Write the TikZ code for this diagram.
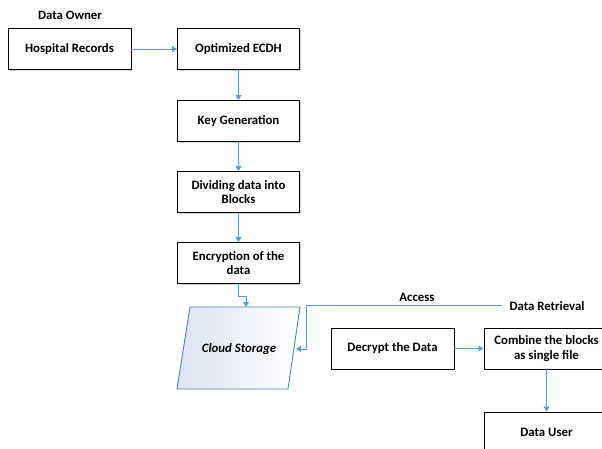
\documentclass[tikz,border=0pt]{standalone}
\usepackage{fontspec}
\setmainfont{Carlito}
\usetikzlibrary{arrows.meta,shadows}
\definecolor{arrowblue}{HTML}{5B9BD5}
\definecolor{cloudblue}{HTML}{DDE3F2}
\begin{document}
\begin{tikzpicture}[x=1pt,y=-1pt,
  box/.style={draw=black,line width=0.9pt,fill=white,minimum width=#1,minimum height=41pt,
    inner sep=2pt,align=center,font=\fontsize{12.8}{14.5}\selectfont\bfseries,
    drop shadow={shadow xshift=1.2pt,shadow yshift=-1.2pt,opacity=0.35,fill=gray}},
  box/.default=122pt,
  lbl/.style={font=\fontsize{12.8}{14.5}\selectfont\bfseries,inner sep=0pt},
  conn/.style={draw=arrowblue,line width=0.9pt,-{Triangle[width=6pt,length=5pt]}}]
\path[use as bounding box] (0,0) rectangle (602,449);
\clip (0,0) rectangle (602,449);
% labels
\node[lbl] (owner) at (70,15) {Data Owner};
\node[lbl] (access) at (417,297) {Access};
\node[lbl] (retr) at (547,306) {Data Retrieval};
% boxes
\node[box=123pt] (hosp) at (69.5,49) {Hospital Records};
\node[box] (ecdh) at (238.5,49) {Optimized ECDH};
\node[box] (key) at (238.5,121) {Key Generation};
\node[box] (div) at (238.5,192) {Dividing data into\\Blocks};
\node[box] (enc) at (238.5,263) {Encryption of the\\data};
\node[box=123pt] (dec) at (392.5,348.5) {Decrypt the Data};
\node[box=125pt] (comb) at (546.5,348.5) {Combine the blocks\\as single file};
\node[box=125pt] (user) at (546.5,432.5) {Data User};
% cloud storage parallelogram
\coordinate (ctl) at (190,307);
\coordinate (ctr) at (300,307);
\coordinate (cbr) at (288,389);
\coordinate (cbl) at (177,389);
\path[left color=cloudblue,right color=white] (ctl) -- (ctr) -- (cbr) -- (cbl) -- cycle;
\draw[draw=arrowblue!85!black,line width=0.9pt,line join=miter] (ctl) -- (ctr) -- (cbr) -- (cbl) -- cycle;
\node[lbl,font=\fontsize{12.8}{14.5}\selectfont\bfseries\itshape] (cloud) at (239,349) {Cloud Storage};
\coordinate (cstop) at (246,307);
\coordinate (csright) at (296,349);
\coordinate (rt) at (502,305);
% connectors
\draw[conn] (hosp.east) -- (ecdh.west);
\draw[conn] (ecdh.south) -- (key.north);
\draw[conn] (key.south) -- (div.north);
\draw[conn] (div.south) -- (enc.north);
\draw[conn] (enc.south) -- ++(0,12) -| (cstop);
\draw[conn] (rt) -| ([xshift=10pt]csright) -- (csright);
\draw[conn] (dec.east) -- (comb.west);
\draw[conn] (comb.south) -- (user.north);
\end{tikzpicture}
\end{document}
